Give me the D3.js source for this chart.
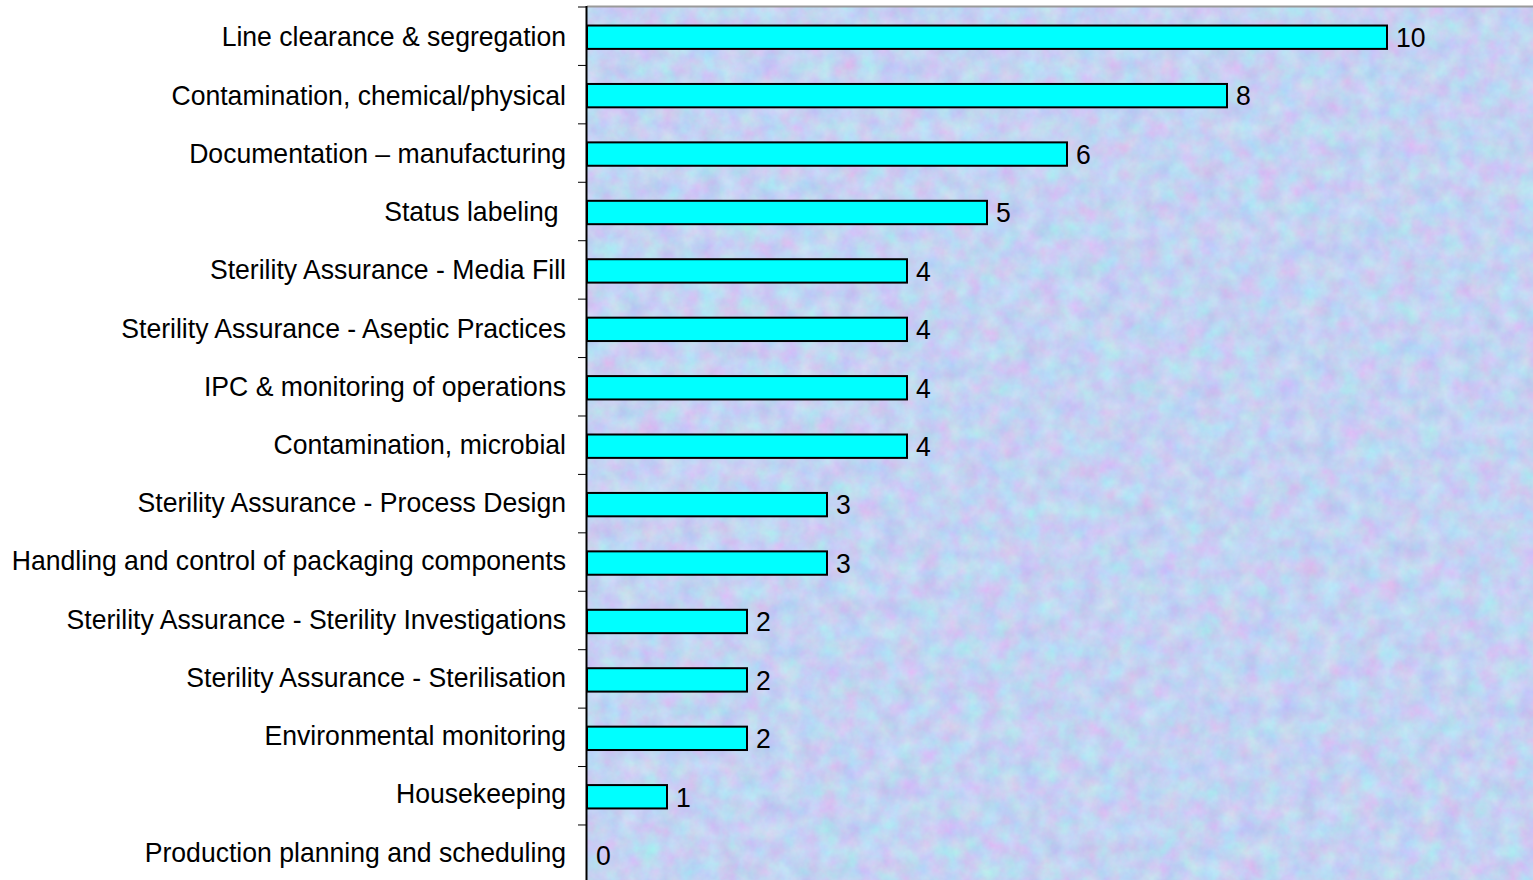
<!DOCTYPE html>
<html>
<head>
<meta charset="utf-8">
<script src="https://cdn.jsdelivr.net/npm/d3@7"></script>
<style>
  html, body { margin: 0; padding: 0; background: #ffffff; }
  svg { display: block; }
  text { font-family: "Liberation Sans", Arial, sans-serif; white-space: pre; }
</style>
</head>
<body>
<svg id="chart" width="1533" height="880"></svg>
<script>
// ---- data ----
const categories = [
  "Line clearance & segregation",
  "Contamination, chemical/physical",
  "Documentation \u2013 manufacturing",
  "Status labeling ",
  "Sterility Assurance - Media Fill",
  "Sterility Assurance - Aseptic Practices",
  "IPC & monitoring of operations",
  "Contamination, microbial",
  "Sterility Assurance - Process Design",
  "Handling and control of packaging components",
  "Sterility Assurance - Sterility Investigations",
  "Sterility Assurance - Sterilisation",
  "Environmental monitoring",
  "Housekeeping",
  "Production planning and scheduling"
];
const values = [10, 8, 6, 5, 4, 4, 4, 4, 3, 3, 2, 2, 2, 1, 0];
const xDomain = [0, 12];

// ---- layout ----
const W = 1533, H = 880;
const plot = { left: 587, top: 7, right: 1547, bottom: 883.4 };
const fontSize = 26.6;
const sy = 1.07; // slight vertical stretch of the glyphs

const svg = d3.select("#chart");

// background texture
const defs = svg.append("defs");
const f = defs.append("filter").attr("id", "tex")
  .attr("x", 0).attr("y", 0).attr("width", 1).attr("height", 1)
  .attr("color-interpolation-filters", "sRGB");
f.append("feTurbulence").attr("type", "fractalNoise")
  .attr("baseFrequency", "0.05").attr("numOctaves", 4).attr("seed", 7).attr("result", "n");
f.append("feColorMatrix").attr("in", "n").attr("type", "matrix")
  .attr("values", [
    "0.22 -0.07 0 0 0.69",
    "-0.05 0.22 0 0 0.74",
    "0 0 0.08 0 0.91",
    "0 0 0 0 1"
  ].join(" "));

const x = d3.scaleLinear().domain(xDomain).range([plot.left, plot.right]);
const y = d3.scaleBand().domain(categories).range([plot.top, plot.bottom])
  .paddingInner(0.6).paddingOuter(0.3);

// plot area
svg.append("rect")
  .attr("x", plot.left).attr("y", plot.top)
  .attr("width", plot.right - plot.left).attr("height", plot.bottom - plot.top)
  .attr("fill", "#c8d4f4")
  .attr("filter", "url(#tex)");
svg.append("line")
  .attr("x1", plot.left).attr("x2", W)
  .attr("y1", plot.top - 0.5).attr("y2", plot.top - 0.5)
  .attr("stroke", "#9a9a9a").attr("stroke-width", 2);

// bars
svg.append("g").selectAll("rect")
  .data(values)
  .join("rect")
  .attr("x", x(0))
  .attr("y", (d, i) => y(categories[i]) + 1)
  .attr("width", d => Math.max(0, x(d) - x(0)))
  .attr("height", y.bandwidth())
  .attr("fill", d => d > 0 ? "#00ffff" : "none")
  .attr("stroke", d => d > 0 ? "#000" : "none")
  .attr("stroke-width", 2);

// value labels
svg.append("g").selectAll("text")
  .data(values)
  .join("text")
  .attr("transform", (d, i) => {
    const ty = y(categories[i]) + 1 + y.bandwidth() / 2 + fontSize * 0.36 * sy - 0.5;
    return `translate(${x(d) + 9},${ty}) scale(1,${sy})`;
  })
  .attr("font-size", fontSize)
  .attr("fill", "#000")
  .text(d => d);

// y axis
const yAxisG = svg.append("g");
yAxisG.append("line")
  .attr("x1", plot.left - 0.5).attr("x2", plot.left - 0.5)
  .attr("y1", plot.top - 1).attr("y2", H)
  .attr("stroke", "#000").attr("stroke-width", 2);
const tickYs = categories.map(c => y(c) - y.step() * y.paddingInner() / 2);
yAxisG.selectAll("line.tick")
  .data(tickYs)
  .join("line").attr("class", "tick")
  .attr("x1", plot.left - 9).attr("x2", plot.left)
  .attr("y1", d => d).attr("y2", d => d)
  .attr("stroke", "#000").attr("stroke-width", 1);

// category labels
yAxisG.selectAll("text")
  .data(categories)
  .join("text")
  .attr("transform", (c, i) => {
    const ty = y(c) + 1 + y.bandwidth() / 2 + fontSize * 0.36 * sy - 1 - i * 0.2;
    return `translate(566,${ty}) scale(1,${sy})`;
  })
  .attr("text-anchor", "end")
  .attr("font-size", fontSize)
  .attr("fill", "#000")
  .text(c => c);
</script>
</body>
</html>
